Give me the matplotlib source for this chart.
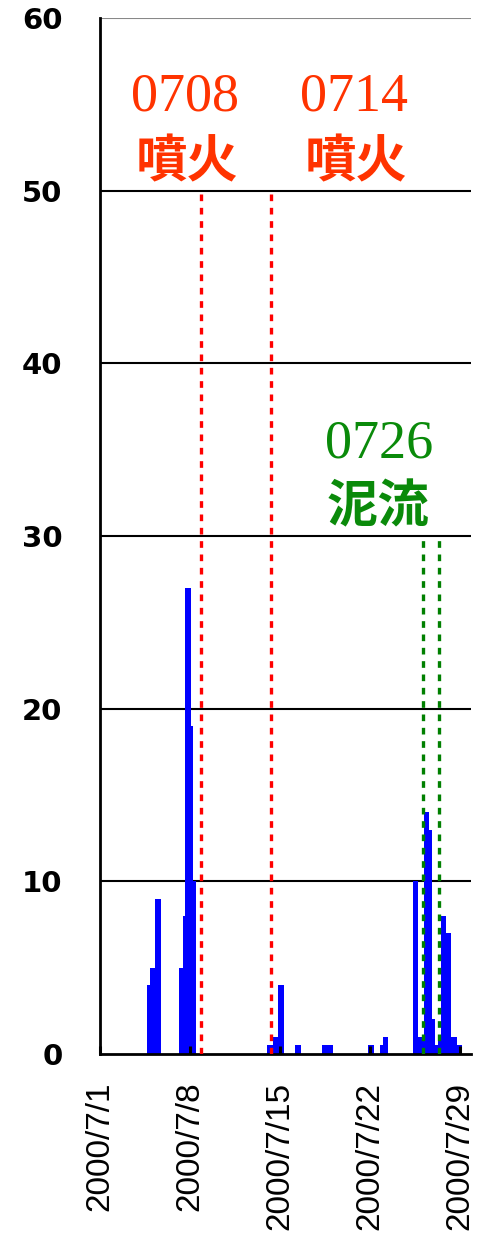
import matplotlib
matplotlib.use("Agg")
import matplotlib.pyplot as plt
import matplotlib.dates as mdates
import pandas as pd

# ---- data ----
times = [
    "2000-07-04 15:00", "2000-07-04 21:20", "2000-07-05 06:40", "2000-07-05 17:20",
    "2000-07-07 04:00", "2000-07-07 10:20", "2000-07-07 14:40", "2000-07-08 01:20",
    "2000-07-08 06:10", "2000-07-08 11:50",
    "2000-07-14 00:20", "2000-07-14 10:20", "2000-07-14 19:40", "2000-07-15 07:00",
    "2000-07-16 04:00", "2000-07-16 14:40",
    "2000-07-18 07:00", "2000-07-19 03:30",
    "2000-07-21 21:00", "2000-07-22 08:00",
    "2000-07-22 18:40", "2000-07-22 23:40", "2000-07-23 10:10",
    "2000-07-25 08:20", "2000-07-25 18:10", "2000-07-26 04:50", "2000-07-26 14:40",
    "2000-07-26 19:10", "2000-07-27 01:20", "2000-07-27 06:20", "2000-07-27 12:00",
    "2000-07-27 21:20", "2000-07-28 07:10", "2000-07-28 17:50", "2000-07-29 03:10",
]
values = [
    4, 5, 9, 0,
    5, 8, 27, 19,
    10, 0,
    0.5, 1, 4, 0,
    0.5, 0,
    0.5, 0,
    0.5, 0,
    0.5, 1, 0,
    10, 1, 14, 13,
    2, 0.5, 1, 8,
    7, 1, 0.5, 0,
]
eruption_times = ["2000-07-08 19:40", "2000-07-14 08:10"]
eruption_labels = ["0708", "0714"]
mudflow_times = ["2000-07-26 03:30", "2000-07-27 08:00"]
mudflow_label = "0726"
tick_dates = ["2000-07-01", "2000-07-08", "2000-07-15", "2000-07-22", "2000-07-29"]
tick_labels = ["2000/7/1", "2000/7/8", "2000/7/15", "2000/7/22", "2000/7/29"]
y_ticks = [0, 10, 20, 30, 40, 50, 60]

W, H = 483, 1235
fig = plt.figure(figsize=(W / 100, H / 100), dpi=100)
ax = fig.add_axes([100 / W, 1 - 1054 / H, (471 - 100) / W, (1054 - 18) / H])

t = pd.to_datetime(times)
ax.fill_between(t, 0, values, step="post", color="#0000ff", linewidth=0, zorder=1)

# gridlines
for yv in y_ticks[1:-1]:
    ax.axhline(yv, color="black", lw=1.5, zorder=0.5)
ax.axhline(60, color="#888888", lw=1.5, zorder=0.5)

# event lines
for et in eruption_times:
    ax.vlines(pd.Timestamp(et), 0, 50, colors="#ff0000", lw=2.4,
              linestyles=(0, (2.0, 2.0)), zorder=3)
for mt in mudflow_times:
    ax.vlines(pd.Timestamp(mt), 0, 30, colors="#008000", lw=2.4,
              linestyles=(0, (2.0, 2.0)), zorder=3)

ax.set_xlim(pd.Timestamp("2000-07-01"), pd.Timestamp("2000-07-29 20:40"))
ax.set_ylim(0, 60)

ax.set_xticks(pd.to_datetime(tick_dates))
ax.set_xticklabels(tick_labels, rotation=90, fontsize=24, family="Liberation Sans")
ax.tick_params(axis="x", direction="in", length=6, width=2.2, color="black", pad=20)
ax.set_yticks(y_ticks)
ax.set_yticklabels([str(v) for v in y_ticks], fontsize=21, fontweight="bold",
                   family="DejaVu Sans")
ax.tick_params(axis="y", length=0, pad=27)

for s in ["top", "right"]:
    ax.spines[s].set_visible(False)
ax.spines["left"].set_linewidth(2)
ax.spines["bottom"].set_linewidth(2)

red = "#ff3300"
green = "#0a8a0a"
# annotation texts (figure-pixel placement)
for lab, cx in zip(eruption_labels, [185, 354]):
    fig.text(cx / W, 1 - 97 / H, lab, color=red, fontsize=39,
             family="Liberation Serif", ha="center", va="center")
    fig.text((cx + 2) / W, 1 - 162 / H, "噴火", color=red, fontsize=37,
             family="Noto Sans CJK JP", fontweight="bold", ha="center", va="center")
fig.text(379 / W, 1 - 444 / H, mudflow_label, color=green, fontsize=39,
         family="Liberation Serif", ha="center", va="center")
fig.text(378 / W, 1 - 507 / H, "泥流", color=green, fontsize=37,
         family="Noto Sans CJK JP", fontweight="bold", ha="center", va="center")

fig.savefig("out.png", dpi=100)
